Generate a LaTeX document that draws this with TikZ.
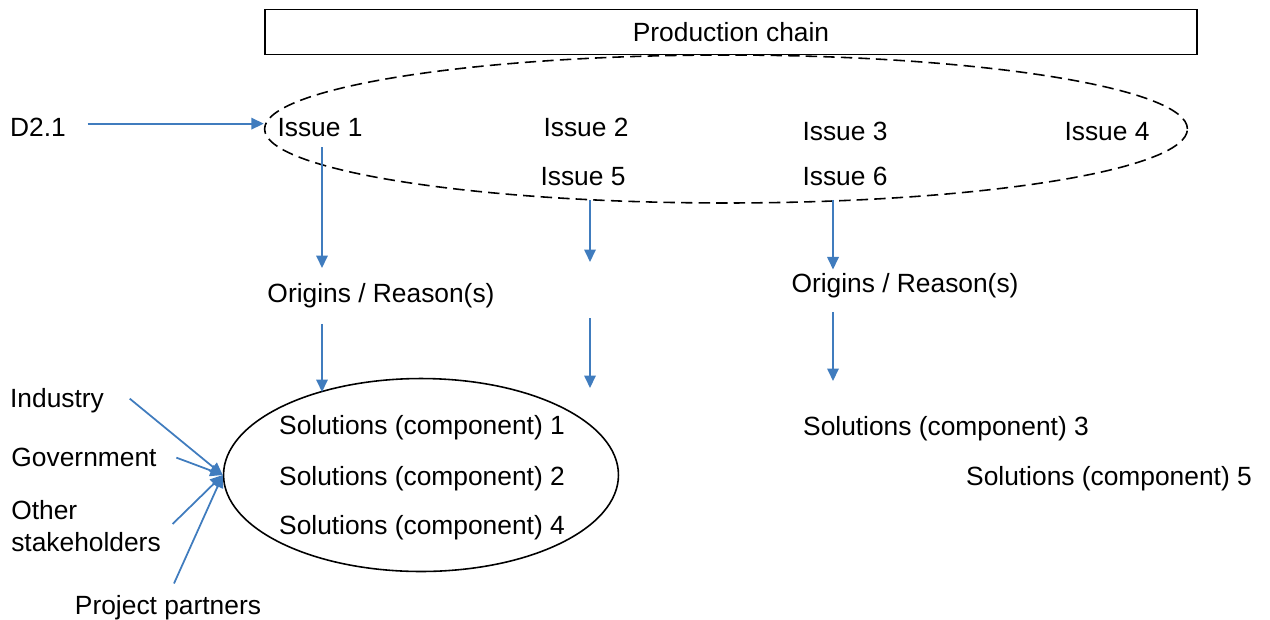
\documentclass[tikz,border=0pt]{standalone}
\usepackage{fontspec}
\setmainfont{Liberation Sans}
\usetikzlibrary{shapes.geometric,arrows.meta}
\definecolor{arrowblue}{RGB}{64,124,190}
\tikzset{
  flow/.style={arrowblue, line width=1pt, -{Triangle[length=2.5mm,width=2.3mm]}},
  txt/.style={font=\fontsize{15}{18}\selectfont, inner sep=2pt, yshift=-1.5pt}
}
\begin{document}
\begin{tikzpicture}[x=0.02cm, y=-0.02cm]
    \useasboundingbox (0,0) rectangle (1270,619);

    \node[draw, line width=0.9pt, minimum width=18.64cm, minimum height=0.9cm, txt, yshift=1.5pt] (pc) at (731, 32) {Production chain};
    \node[draw, ellipse, dash pattern=on 6.5pt off 3.5pt, line width=0.9pt, minimum width=18.46cm, minimum height=2.96cm] (iss) at (726, 129) {};

    \node[txt] (d21) at (38, 125) {D2.1};
    \node[txt] (i1) at (320, 125) {Issue 1};
    \node[txt] (i2) at (586, 125) {Issue 2};
    \node[txt] (i3) at (845, 129) {Issue 3};
    \node[txt] (i4) at (1107, 129) {Issue 4};
    \node[txt] (i5) at (583, 174) {Issue 5};
    \node[txt] (i6) at (845, 174) {Issue 6};

    \node[txt] (or1) at (381, 293) {Origins / Reason(s)};
    \node[txt] (or3) at (905, 283) {Origins / Reason(s)};

    \node[draw, ellipse, line width=0.9pt, minimum width=7.9cm, minimum height=3.86cm] (sol) at (421, 475) {};
    \node[txt] (s1) at (422, 425) {Solutions (component) 1};
    \node[txt] (s2) at (422, 476) {Solutions (component) 2};
    \node[txt] (s4) at (422, 525) {Solutions (component) 4};
    \node[txt] (s3) at (946, 426) {Solutions (component) 3};
    \node[txt] (s5) at (1109, 476) {Solutions (component) 5};

    \node[txt] (ind) at (57, 398) {Industry};
    \node[txt] (gov) at (84, 455) {Government};
    \node[txt, align=left, yshift=1.5pt] (oth) at (86, 526) {Other\\stakeholders};
    \node[txt] (pp) at (168, 605) {Project partners};

    \coordinate (d21a) at ([shift={(18,-4)}]d21.east);
    \coordinate (m1) at (590, 200);
    \coordinate (m2) at (590, 262);
    \coordinate (m3) at (590, 318);
    \coordinate (m4) at (590, 388);

    \draw[flow] (d21a) -- (d21a -| iss.west);
    \draw[flow] (322, 147) -- (322, 268);
    \draw[flow] (or1.south -| 322, 0) ++(0,12) -- (322, 392);
    \draw[flow] (m1) -- (m2);
    \draw[flow] (m3) -- (m4);
    \draw[flow] (i6.south -| 833, 0) ++(0,10) -- (or3.north -| 833, 0);
    \draw[flow] (or3.south -| 833, 0) ++(0,10) -- (833, 381);

    \draw[flow] (ind.east) ++(22,-2) -- (sol.west);
    \draw[flow] (gov.east) ++(16,0) -- (sol.west);
    \draw[flow] (oth.east) ++(8,-2) -- (sol.west);
    \draw[flow] (pp.north) ++(6,-8) -- (sol.west);
  \end{tikzpicture}
\end{document}
